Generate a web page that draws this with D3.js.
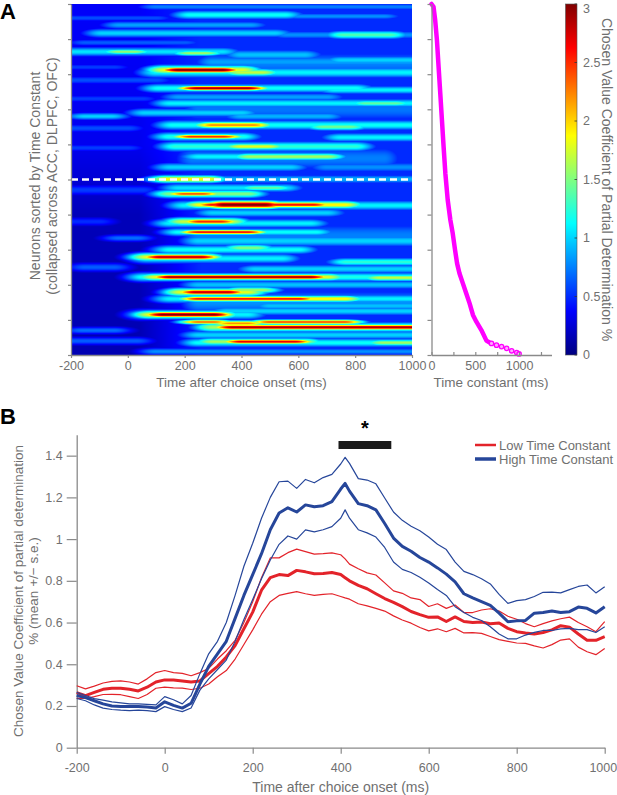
<!DOCTYPE html>
<html>
<head>
<meta charset="utf-8">
<script src="https://cdn.jsdelivr.net/npm/d3@7"></script>
<style>
  body { margin: 0; background: #fff; }
  text { font-family: "Liberation Sans", Arial, sans-serif; }
</style>
</head>
<body>
<script>
// ---------------- data ----------------

// Panel A heatmap: streaks
// [neuron rank (0-100), start ms, end ms, peak CPD %, half width in rank units]
var streaks = [
  [17, 300, 1000, 0.75, 3], [30, 250, 1000, 0.72, 3], [44, 230, 900, 0.75, 3],
  [66, 250, 1000, 0.75, 3], [85, 250, 1000, 0.8, 3],
  [0.8, 100, 1000, 0.75, 0.8], [3.1, 220, 550, 1.15, 1.0], [3.5, 600, 900, 0.8, 0.8],
  [4, -200, 100, 0.6, 0.8], [6.0, -30, 430, 0.85, 0.9], [8.3, -90, 515, 1.0, 1.0],
  [8.8, 760, 920, 1.35, 0.9], [8.8, 560, 1000, 0.8, 1.0], [11, -150, 200, 0.65, 0.8],
  [13.6, -200, 330, 1.05, 1.0], [13.6, -30, 20, 1.55, 0.6], [14, 220, 270, 1.6, 0.6],
  [14.5, 400, 620, 0.95, 1.2], [16, 750, 990, 1.0, 1.0], [16.5, 300, 1000, 0.85, 1.5],
  [18, -200, -50, 0.55, 0.8], [18.8, 180, 330, 3.0, 0.6], [18.8, 130, 400, 1.8, 1.0],
  [19.5, 100, 1000, 1.1, 1.2], [19.5, 400, 470, 1.7, 0.8], [21.7, -200, 100, 0.6, 1.0],
  [24, 245, 420, 2.9, 0.5], [24, 110, 800, 1.15, 1.0], [24.5, 730, 1000, 1.1, 0.9],
  [26.5, 180, 700, 0.85, 1.0], [27, -200, 50, 0.55, 0.9], [28.3, 150, 1000, 1.1, 1.0],
  [28.3, 840, 940, 1.4, 0.7], [31, 60, 400, 1.0, 1.0], [32, -150, -60, 1.0, 0.8],
  [32, 400, 700, 0.9, 1.0], [34.5, 300, 440, 2.2, 0.7], [34.5, 160, 1000, 1.15, 1.1],
  [35, 690, 780, 1.45, 0.8], [35.4, -200, 0, 0.6, 1.0], [37.8, 225, 335, 2.5, 0.5],
  [37.8, 150, 400, 1.2, 1.0], [38, 750, 1000, 1.1, 1.0], [40.6, 170, 800, 1.25, 1.1],
  [40.6, 400, 490, 1.8, 0.7], [41, -200, 0, 0.55, 0.9], [43.5, 430, 700, 1.6, 0.8],
  [43.5, 250, 430, 1.1, 1.0], [46.5, 150, 570, 1.0, 1.0], [46.5, 700, 1000, 0.8, 1.2],
  [49.9, 140, 280, 1.9, 0.8], [49.9, 280, 1000, 0.9, 1.0], [52.4, 180, 550, 1.05, 1.0],
  [52.4, 450, 520, 1.4, 0.7], [53, -200, 50, 0.55, 1.2], [54.1, 200, 260, 2.4, 0.5],
  [54.1, 150, 420, 1.5, 0.9], [57.2, 340, 480, 3.0, 0.8], [57.2, 300, 650, 2.6, 0.6],
  [57.2, 260, 760, 1.9, 0.8], [57.4, 200, 1000, 1.1, 1.1], [59.5, 300, 700, 1.0, 1.0],
  [62, 255, 325, 2.5, 0.6], [62, 195, 360, 1.7, 0.9], [62.5, 150, 640, 1.1, 1.0],
  [62, -200, -100, 0.5, 1.0], [65, 250, 420, 2.6, 0.5], [65, 180, 660, 1.15, 0.9],
  [66.7, -30, 30, 0.7, 0.8], [67.5, 250, 1000, 1.0, 1.3], [69.5, 400, 450, 1.5, 0.8],
  [70, 150, 600, 1.15, 1.0], [72.1, 115, 255, 2.8, 0.6], [72.1, 70, 270, 1.8, 0.9],
  [72.5, 70, 540, 1.1, 1.1], [73.5, 770, 1000, 1.25, 0.9], [75, -150, -50, 0.65, 1.0],
  [75.5, 450, 1000, 1.0, 1.0], [77.8, 150, 640, 2.9, 0.55], [77.8, 100, 700, 1.8, 0.8],
  [77.8, 60, 1000, 1.2, 1.0], [78, 890, 1000, 1.7, 0.7], [80, 250, 1000, 0.95, 1.0],
  [81.5, 400, 470, 1.6, 0.7], [82.1, 240, 350, 2.8, 0.6], [82.1, 190, 420, 1.8, 0.9],
  [84, 250, 600, 2.6, 0.5], [84, 250, 760, 1.9, 0.7], [84, 150, 1000, 1.1, 1.0],
  [86, 500, 1000, 0.95, 1.0], [87.5, 350, 1000, 1.0, 1.0], [88.5, 125, 300, 3.0, 0.6],
  [88.5, 80, 325, 1.8, 0.9], [88.5, 60, 420, 1.1, 1.1], [90.6, 500, 760, 2.4, 0.5],
  [90.6, 250, 300, 2.3, 0.5], [91, 360, 420, 2.2, 0.6], [92.1, 370, 1000, 2.9, 0.55],
  [92.1, 300, 1000, 1.6, 1.0], [93, -160, -50, 0.7, 0.8], [94.3, 250, 1000, 1.0, 1.0],
  [96.2, 400, 585, 2.7, 0.5], [96.2, 300, 620, 1.6, 0.8], [96.5, 250, 1000, 1.15, 1.0],
  [96.5, 900, 1000, 1.6, 0.7], [96, -200, 30, 0.65, 0.9], [99, 100, 1000, 0.8, 0.8]
];
// background level: left part (before onset) by rank, later part flat
var baseRows = [0, 40, 60, 100];
var baseLeft = [0.36, 0.33, 0.17, 0.15];
var baseRight = 0.5;

// Panel A right: time constant of each neuron rank
var tauRank = [0, 0.8, 4.6, 10.3, 17.9, 25.4, 33.0, 40.6, 48.2, 55.8, 61.5, 65.3, 70.1,
               73.9, 76.7, 79.6, 82.4, 85.3, 88.6, 90.5, 92.9, 95.9, 96.5];
var tauValue = [0, 23, 42, 62, 81, 100, 119, 138, 158, 185, 215, 242, 269,
                292, 319, 358, 396, 435, 473, 512, 569, 627, 665];
var tailRank = [96.7, 97.2, 97.6, 98.1, 98.8, 99.3, 99.7];
var tailValue = [685, 742, 800, 858, 915, 973, 1000];

// Panel B: mean +/- s.e.
var times = [-200,-180,-160,-140,-120,-100,-80,-60,-40,-20,0,20,40,60,80,100,120,140,160,180,
  200,220,240,260,280,300,320,340,360,380,400,410,420,440,460,480,500,520,540,560,580,600,
  620,640,660,680,700,720,740,760,780,800,820,840,860,880,900,920,940,960,980,1000];
var lowMean = [0.264,0.25,0.265,0.28,0.285,0.285,0.28,0.272,0.29,0.315,0.325,0.325,0.32,0.315,0.32,
  0.355,0.39,0.435,0.49,0.57,0.65,0.755,0.815,0.83,0.825,0.85,0.843,0.834,0.835,0.84,0.83,0.815,
  0.80,0.778,0.762,0.738,0.715,0.697,0.676,0.653,0.638,0.625,0.627,0.605,0.627,0.605,0.60,0.603,
  0.594,0.598,0.572,0.556,0.55,0.545,0.552,0.565,0.585,0.578,0.545,0.515,0.515,0.532];
var lowUpper = [0.297,0.282,0.295,0.31,0.318,0.32,0.315,0.305,0.33,0.36,0.37,0.36,0.356,0.345,0.36,
  0.38,0.425,0.465,0.515,0.6,0.7,0.815,0.91,0.91,0.935,0.952,0.94,0.928,0.93,0.934,0.925,0.905,
  0.88,0.858,0.838,0.828,0.79,0.752,0.74,0.718,0.71,0.677,0.69,0.668,0.684,0.648,0.648,0.66,
  0.666,0.655,0.63,0.616,0.595,0.58,0.595,0.608,0.618,0.626,0.6,0.58,0.556,0.604];
var lowLower = [0.236,0.236,0.245,0.255,0.256,0.254,0.245,0.236,0.255,0.285,0.29,0.287,0.286,0.279,0.285,
  0.305,0.34,0.37,0.425,0.495,0.565,0.64,0.70,0.73,0.74,0.748,0.738,0.73,0.735,0.738,0.725,0.718,
  0.712,0.69,0.68,0.668,0.655,0.632,0.612,0.597,0.576,0.56,0.57,0.556,0.572,0.55,0.552,0.548,
  0.533,0.518,0.51,0.502,0.50,0.488,0.478,0.494,0.516,0.522,0.482,0.46,0.446,0.476];
var highMean = [0.25,0.24,0.225,0.21,0.2,0.197,0.198,0.198,0.195,0.19,0.22,0.203,0.19,0.213,0.305,
  0.39,0.45,0.51,0.62,0.73,0.83,0.93,1.045,1.125,1.15,1.13,1.164,1.155,1.16,1.18,1.24,1.267,
  1.23,1.17,1.16,1.14,1.075,1.005,0.965,0.942,0.912,0.89,0.862,0.832,0.795,0.738,0.718,0.70,
  0.682,0.645,0.604,0.608,0.61,0.645,0.648,0.655,0.648,0.652,0.674,0.668,0.646,0.676];
var highUpper = [0.265,0.25,0.235,0.228,0.22,0.215,0.21,0.21,0.208,0.205,0.245,0.23,0.21,0.25,0.355,
  0.45,0.51,0.6,0.73,0.87,0.98,1.1,1.2,1.275,1.278,1.243,1.286,1.27,1.295,1.31,1.36,1.392,
  1.363,1.29,1.283,1.265,1.197,1.13,1.09,1.062,1.04,1.01,0.975,0.95,0.89,0.845,0.83,0.81,
  0.785,0.735,0.692,0.705,0.71,0.725,0.745,0.746,0.742,0.758,0.773,0.78,0.742,0.772];
var highLower = [0.236,0.225,0.205,0.19,0.183,0.18,0.178,0.18,0.178,0.173,0.197,0.183,0.173,0.19,0.276,
  0.33,0.375,0.42,0.51,0.615,0.71,0.81,0.9,0.975,1.015,1.0,1.044,1.035,1.045,1.06,1.10,1.14,
  1.10,1.045,1.03,1.01,0.96,0.89,0.855,0.84,0.817,0.79,0.758,0.73,0.676,0.648,0.625,0.61,
  0.58,0.545,0.522,0.522,0.54,0.553,0.562,0.562,0.57,0.572,0.566,0.566,0.552,0.58];

var timeTicks = [-200, 0, 200, 400, 600, 800, 1000];
var cpdTicks = [0, 0.2, 0.4, 0.6, 0.8, 1, 1.2, 1.4];
var colorTicks = [0, 0.5, 1, 1.5, 2, 2.5, 3];
var tauTicks = [0, 250, 500, 750, 1000, 1250];
var tauLabels = [0, 500, 1000];
var rankTicks = d3.range(0, 101, 10);
var sigWindow = [395, 515];
var legendNames = ["Low Time Constant", "High Time Constant"];

// ---------------- set up ----------------
var W = 617, H = 795;
var grey = "#707070", axisGrey = "#8a8a8a";
var red = "#e3232a", blue = "#26469a";

var svg = d3.select("body").append("svg")
    .attr("width", W)
    .attr("height", H);

// MATLAB style jet colormap
function jet(x) {
  var c = function(v) { return Math.max(0, Math.min(1, v)); };
  return d3.rgb(255 * c(1.5 - Math.abs(4 * x - 3)),
                255 * c(1.5 - Math.abs(4 * x - 2)),
                255 * c(1.5 - Math.abs(4 * x - 1))) + "";
}
var color = d3.scaleSequential(jet).domain([0, 3]);

// ---------------- panel A: heatmap ----------------
var xA = d3.scaleLinear().domain([-200, 1000]).range([71, 412]);
var yRank = d3.scaleLinear().domain([0, 100]).range([4, 355]);

var heatW = Math.round(xA.range()[1] - xA.range()[0]),
    heatH = Math.round(yRank.range()[1] - yRank.range()[0]);
var canvas = document.createElement("canvas");
canvas.width = heatW; canvas.height = heatH;
var ctx = canvas.getContext("2d");
var img = ctx.createImageData(heatW, heatH);
var leftLevel = d3.scaleLinear().domain(baseRows).range(baseLeft).clamp(true);
var blend = d3.scaleLinear().domain([40, 260]).range([0, 1]).clamp(true);

for (var j = 0; j < heatH; j++) {
  var r = yRank.invert(yRank.range()[0] + j + 0.5);
  for (var i = 0; i < heatW; i++) {
    var t = xA.invert(xA.range()[0] + i + 0.5);
    var b = blend(t);
    var v = leftLevel(r) * (1 - b) + baseRight * b;
    streaks.forEach(function(s) {
      var dr = (r - s[0]) / s[4];
      if (Math.abs(dr) > 4) return;
      var dt = t < s[1] ? s[1] - t : (t > s[2] ? t - s[2] : 0);
      var c = s[3] * Math.exp(-0.5 * dr * dr) * Math.exp(-0.5 * (dt / 55) * (dt / 55));
      if (c > v) v = c;
    });
    var col = d3.rgb(color(Math.min(v, 3)));
    var k = (j * heatW + i) * 4;
    img.data[k] = col.r; img.data[k + 1] = col.g; img.data[k + 2] = col.b; img.data[k + 3] = 255;
  }
}
ctx.putImageData(img, 0, 0);

svg.append("image")
    .attr("x", xA.range()[0])
    .attr("y", yRank.range()[0])
    .attr("width", heatW)
    .attr("height", heatH)
    .attr("preserveAspectRatio", "none")
    .attr("href", canvas.toDataURL());

// dashed split line
svg.append("line")
    .attr("x1", xA(-200)).attr("x2", xA(1000))
    .attr("y1", yRank(50)).attr("y2", yRank(50))
    .style("stroke", "#fff")
    .style("stroke-width", 2.6)
    .style("stroke-dasharray", "7,4");

// axes of heatmap
var gxA = svg.append("g")
    .attr("transform", "translate(0," + yRank(100) + ")")
    .call(d3.axisBottom(xA).tickValues(timeTicks).tickSize(3).tickSizeOuter(0)
          .tickPadding(3).tickFormat(function(d) { return String(d); }));
var gyA = svg.append("g")
    .attr("transform", "translate(" + xA(-200) + ",0)")
    .call(d3.axisLeft(yRank).tickValues(rankTicks).tickSize(3).tickSizeOuter(0).tickFormat(""));

// ---------------- panel A: time constants ----------------
var xTau = d3.scaleLinear().domain([0, 1370]).range([431.5, 551.5]);

var tauLine = d3.line()
    .x(function(d, i) { return xTau(tauValue[i]); })
    .y(function(d) { return yRank(d); });

svg.append("path")
    .datum(tauRank)
    .attr("d", tauLine)
    .style("fill", "none")
    .style("stroke", "#ff00ff")
    .style("stroke-width", 4.5)
    .style("stroke-linecap", "round")
    .style("stroke-linejoin", "round");

svg.selectAll(".tail")
    .data(tailRank)
    .enter()
    .append("circle")
    .attr("class", "tail")
    .attr("cx", function(d, i) { return xTau(tailValue[i]); })
    .attr("cy", function(d) { return yRank(d); })
    .attr("r", 2.2)
    .style("fill", "#ffa8ff")
    .style("stroke", "#ff00ff")
    .style("stroke-width", 1.3);

var gxT = svg.append("g")
    .attr("transform", "translate(0," + yRank(100) + ")")
    .call(d3.axisBottom(xTau).tickValues(tauTicks).tickSize(-3).tickSizeOuter(0)
          .tickPadding(6).tickFormat(function(d) { return tauLabels.indexOf(d) >= 0 ? String(d) : ""; }));
var gyT = svg.append("g")
    .attr("transform", "translate(" + xTau(0) + ",0)")
    .call(d3.axisLeft(yRank).tickValues(rankTicks).tickSize(4).tickSizeOuter(0).tickFormat(""));

// ---------------- panel A: colorbar ----------------
var yColor = d3.scaleLinear().domain([0, 3]).range([355, 4]);
var cbX = 565.5, cbW = 11.5;

var grad = svg.append("defs").append("linearGradient")
    .attr("id", "jetgrad")
    .attr("x1", 0).attr("y1", 1).attr("x2", 0).attr("y2", 0);
d3.range(0, 1.0001, 0.0625).forEach(function(f) {
  grad.append("stop").attr("offset", f).attr("stop-color", color(f * 3));
});
svg.append("rect")
    .attr("x", cbX).attr("y", yColor(3))
    .attr("width", cbW).attr("height", yColor(0) - yColor(3))
    .style("fill", "url(#jetgrad)")
    .style("stroke", "#555")
    .style("stroke-width", 0.6);

svg.selectAll(".cbtick")
    .data(colorTicks)
    .enter()
    .append("line")
    .attr("x1", cbX + cbW - 2.5).attr("x2", cbX + cbW)
    .attr("y1", function(d) { return yColor(d); })
    .attr("y2", function(d) { return yColor(d); })
    .style("stroke", "#333")
    .style("stroke-width", 0.8);

svg.selectAll(".cblabel")
    .data(colorTicks)
    .enter()
    .append("text")
    .attr("x", 583)
    .attr("y", function(d) { return Math.max(yColor(d), 9); })
    .attr("dy", "0.35em")
    .attr("font-size", 12.5)
    .style("fill", grey)
    .text(function(d) { return String(d); });

svg.append("text")
    .attr("transform", "translate(602," + yColor(1.5) + ") rotate(90)")
    .style("text-anchor", "middle")
    .attr("font-size", 14)
    .style("fill", grey)
    .text("Chosen Value Coefficient of Partial Determination %");

// labels panel A
svg.append("text")
    .attr("x", (xA(-200) + xA(1000)) / 2)
    .attr("y", 387)
    .style("text-anchor", "middle")
    .attr("font-size", 13.5)
    .style("fill", grey)
    .text("Time after choice onset (ms)");
svg.append("text")
    .attr("x", 491)
    .attr("y", 387)
    .style("text-anchor", "middle")
    .attr("font-size", 13.5)
    .style("fill", grey)
    .text("Time constant (ms)");
svg.append("text")
    .attr("transform", "translate(40," + yRank(49) + ") rotate(-90)")
    .style("text-anchor", "middle")
    .attr("font-size", 14)
    .style("fill", grey)
    .text("Neurons sorted by Time Constant");
svg.append("text")
    .attr("transform", "translate(57," + yRank(49) + ") rotate(-90)")
    .style("text-anchor", "middle")
    .attr("font-size", 14)
    .style("fill", grey)
    .text("(collapsed across ACC, DLPFC, OFC)");

svg.append("text")
    .attr("x", 0).attr("y", 18.5)
    .attr("font-size", 22).attr("font-weight", "bold")
    .text("A");

// ---------------- panel B ----------------
var xB = d3.scaleLinear().domain([-200, 1000]).range([76.7, 604.7]);
var yB = d3.scaleLinear().domain([0, 1.5]).range([747.7, 434.8]);

var gxB = svg.append("g")
    .attr("transform", "translate(0," + yB(0) + ")")
    .call(d3.axisBottom(xB).tickValues(timeTicks).tickSize(6).tickSizeOuter(0)
          .tickPadding(9).tickFormat(function(d) { return String(d); }));
var gyB = svg.append("g")
    .attr("transform", "translate(" + xB(-200) + ",0)")
    .call(d3.axisLeft(yB).tickValues(cpdTicks).tickSize(10).tickSizeOuter(0)
          .tickPadding(4).tickFormat(d3.format("~g")));

[gxA, gyA, gxT, gyT, gxB, gyB].forEach(function(g) {
  g.select(".domain").style("stroke", axisGrey).style("stroke-width", 1.3);
  g.selectAll(".tick line").style("stroke", axisGrey).style("stroke-width", 1.2);
  g.selectAll(".tick text")
      .style("fill", grey)
      .attr("font-size", 12.5)
      .attr("font-family", "Liberation Sans, Arial, sans-serif");
});
// keep the last tick label of panel B inside the page
gxB.selectAll(".tick text")
    .filter(function(d) { return d === 1000; })
    .attr("text-anchor", "end")
    .attr("dx", 12);

var valueline = function(arr) {
  return d3.line()
      .x(function(d, i) { return xB(times[i]); })
      .y(function(d) { return yB(d); })(arr);
};

var series = [
  {v: lowUpper, c: red, w: 1.2}, {v: lowLower, c: red, w: 1.2}, {v: lowMean, c: red, w: 3},
  {v: highUpper, c: blue, w: 1.2}, {v: highLower, c: blue, w: 1.2}, {v: highMean, c: blue, w: 3}
];
svg.selectAll(".series")
    .data(series)
    .enter()
    .append("path")
    .attr("class", "series")
    .attr("d", function(d) { return valueline(d.v); })
    .style("fill", "none")
    .style("stroke", function(d) { return d.c; })
    .style("stroke-width", function(d) { return d.w; })
    .style("stroke-linejoin", "round");

// significance bar
svg.append("rect")
    .attr("x", xB(sigWindow[0]))
    .attr("y", 441)
    .attr("width", xB(sigWindow[1]) - xB(sigWindow[0]))
    .attr("height", 8)
    .style("fill", "#1a1a1a");
svg.append("text")
    .attr("x", xB((sigWindow[0] + sigWindow[1]) / 2))
    .attr("y", 435)
    .style("text-anchor", "middle")
    .attr("font-size", 20)
    .attr("font-weight", "bold")
    .text("*");

// legend
legendNames.forEach(function(name, i) {
  var ly = 445 + i * 14;
  svg.append("line")
      .attr("x1", 475).attr("x2", 496)
      .attr("y1", ly).attr("y2", ly)
      .style("stroke", i === 0 ? red : blue)
      .style("stroke-width", i === 0 ? 2.5 : 3.5);
  svg.append("text")
      .attr("x", 499).attr("y", ly)
      .attr("dy", "0.35em")
      .attr("font-size", 13)
      .style("fill", grey)
      .text(name);
});

// axis labels panel B
svg.append("text")
    .attr("x", (xB(-200) + xB(1000)) / 2)
    .attr("y", 792)
    .style("text-anchor", "middle")
    .attr("font-size", 14)
    .style("fill", grey)
    .text("Time after choice onset (ms)");
svg.append("text")
    .attr("transform", "translate(22.5,591) rotate(-90)")
    .style("text-anchor", "middle")
    .attr("font-size", 13.5)
    .style("fill", grey)
    .text("Chosen Value Coefficient of partial determination");
svg.append("text")
    .attr("transform", "translate(37.5,591) rotate(-90)")
    .style("text-anchor", "middle")
    .attr("font-size", 13.5)
    .style("fill", grey)
    .text("% (mean +/\u2212 s.e.)");

svg.append("text")
    .attr("x", 0).attr("y", 423.5)
    .attr("font-size", 22).attr("font-weight", "bold")
    .text("B");
</script>
</body>
</html>
